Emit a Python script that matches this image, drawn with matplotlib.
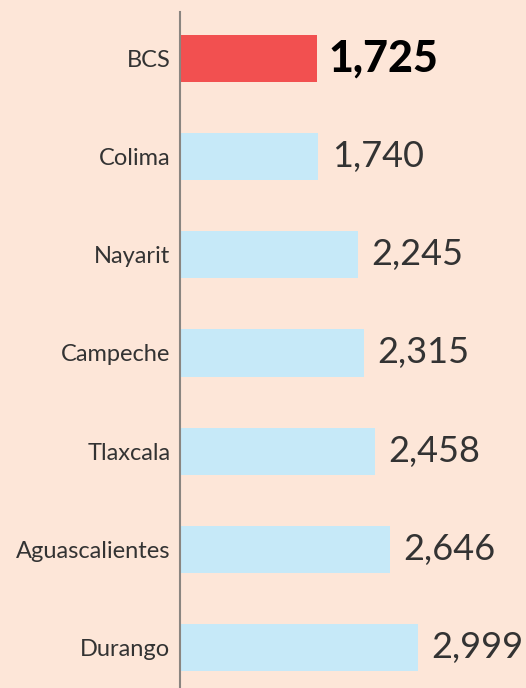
import matplotlib.pyplot as plt

states = ['BCS', 'Colima', 'Nayarit', 'Campeche', 'Tlaxcala', 'Aguascalientes', 'Durango']
values = [1725, 1740, 2245, 2315, 2458, 2646, 2999]
highlight = 'BCS'

bg = '#fde6d8'
red = '#f25050'
blue = '#c6e9f8'

fig = plt.figure(figsize=(5.26, 6.88), dpi=100, facecolor=bg)
ax = fig.add_axes([180 / 526, 0, 346 / 526, 676 / 688])
ax.set_facecolor(bg)

pos = list(range(len(states)))
colors = [red if s == highlight else blue for s in states]
ax.barh(pos, values, height=0.48, color=colors)

for y, v, s in zip(pos, values, states):
    if s == highlight:
        ax.text(v + 150, y, f'{v:,}', va='center', ha='left', fontsize=31,
                fontweight='black', family='Lato', color='black')
    else:
        ax.text(v + 170, y, f'{v:,}', va='center', ha='left', fontsize=26,
                fontweight='normal', family='Lato', color='#333333')

ax.set_xlim(0, 4360)
ax.set_ylim(6.41, -0.47)
ax.set_yticks(pos)
ax.set_yticklabels(states, family='Lato', fontweight='normal', fontsize=17, color='#333333')
ax.tick_params(axis='y', length=0, pad=7)
ax.set_xticks([])
for side in ['top', 'right', 'bottom']:
    ax.spines[side].set_visible(False)
ax.spines['left'].set_color('#8a8580')
ax.spines['left'].set_linewidth(1.5)

fig.savefig('out.png', dpi=100, facecolor=bg)
